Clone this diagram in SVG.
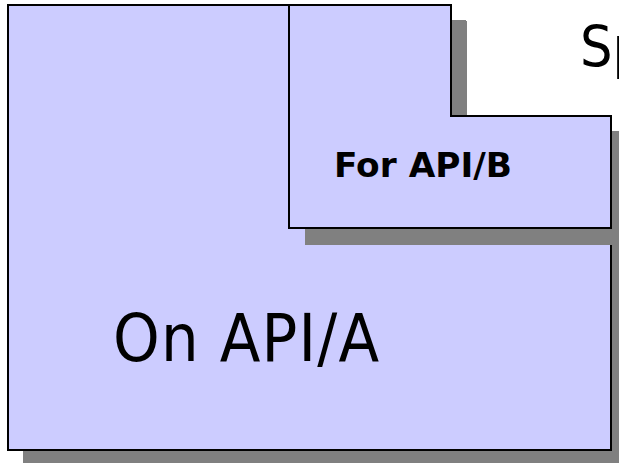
<svg xmlns="http://www.w3.org/2000/svg" width="619" height="463" viewBox="0 0 619 463">
  <style>
    .shadow { fill: #808080; stroke: none; }
    .box { fill: #CCCCFF; stroke: #000000; stroke-width: 2; stroke-linejoin: miter; }
    .lbl { font-family: "DejaVu Sans", "Liberation Sans", sans-serif; fill: #000000; }
    .cond { font-stretch: condensed; }
  </style>
  <rect width="619" height="463" fill="#ffffff"/>
  <text class="lbl cond" x="580" y="67" font-size="57">Sp</text>
  <g id="nodeA">
    <path class="shadow" d="M23,20 H466 V131 H626 V465 H23 Z"/>
    <path class="box" d="M8,5 H451 V116 H611 V450 H8 Z"/>
    <text class="lbl cond" x="113" y="361" font-size="66" textLength="266" lengthAdjust="spacing">On API/A</text>
  </g>
  <g id="nodeB">
    <path class="shadow" d="M305,21 H467 V132 H627 V245 H305 Z"/>
    <path class="box" d="M289,5 H451 V116 H611 V228 H289 Z"/>
    <text class="lbl" x="334" y="177" font-size="33" font-weight="bold" textLength="178" lengthAdjust="spacingAndGlyphs">For API/B</text>
  </g>
  <g id="connectors"/>
</svg>
